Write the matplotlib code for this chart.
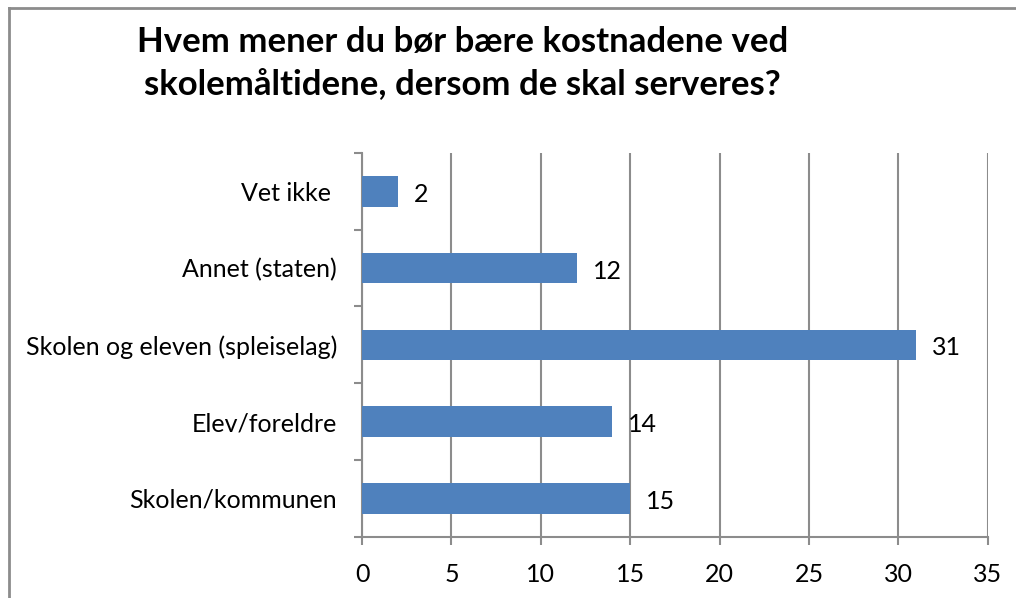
import matplotlib.pyplot as plt
from matplotlib.lines import Line2D

categories = ['Skolen/kommunen', 'Elev/foreldre', 'Skolen og eleven (spleiselag)',
              'Annet (staten)', 'Vet ikke ']
values = [15, 14, 31, 12, 2]
xticks = [0, 5, 10, 15, 20, 25, 30, 35]
title = 'Hvem mener du bør bære kostnadene ved\nskolemåltidene, dersom de skal serveres?'

plt.rcParams['font.family'] = ['Lato', 'DejaVu Sans']

fig = plt.figure(figsize=(10.16, 5.98), dpi=100)
ax = fig.add_axes([0.3563, 0.1025, 0.6159, 0.6416])

grey = '#8c8c8c'
ypos = list(range(len(categories)))
ax.barh(ypos, values, height=0.4, color='#4f81bd', zorder=3)

for y, v in zip(ypos, values):
    ax.text(v + 0.9, y - 0.04, str(v), va='center', ha='left', fontsize=18)

ax.set_xlim(0, 35)
ax.set_ylim(-0.5, len(categories) - 0.5)
ax.set_xticks(xticks)
ax.set_xticklabels([str(t) for t in xticks], fontsize=18)
ax.xaxis.grid(True, color=grey, linewidth=1.5, zorder=0)

# category labels without ticks, ticks between categories
ax.set_yticks(ypos)
ax.set_yticklabels(categories, fontsize=18)
ax.tick_params(axis='y', length=0, pad=18)
ax.set_yticks([i - 0.5 for i in range(len(categories) + 1)], minor=True)
ax.tick_params(axis='y', which='minor', length=6, width=1.5, color=grey)
ax.tick_params(axis='x', length=6, width=1.5, color=grey, pad=13)

for s in ['top', 'right']:
    ax.spines[s].set_visible(False)
for s in ['left', 'bottom']:
    ax.spines[s].set_color(grey)
    ax.spines[s].set_linewidth(1.5)

fig.text(0.455, 0.894, title, ha='center', va='center', fontsize=25,
         fontweight='bold', linespacing=1.4)

# chart frame (only top and left visible in the crop)
fig.add_artist(Line2D([0.0093, 0.0093], [0, 0.986], color=grey, linewidth=2,
                      transform=fig.transFigure))
fig.add_artist(Line2D([0.0093, 1], [0.986, 0.986], color=grey, linewidth=2,
                      transform=fig.transFigure))

fig.savefig('out.png', dpi=100)
